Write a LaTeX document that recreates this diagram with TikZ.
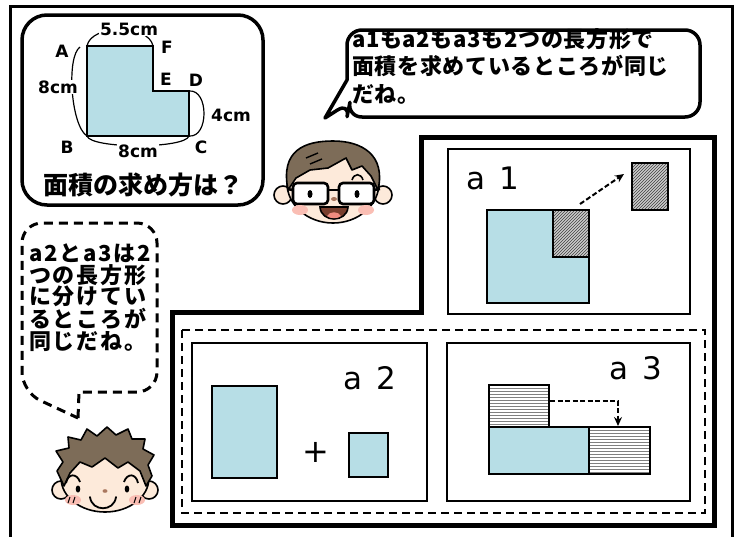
\documentclass[tikz,border=0pt]{standalone}
\usepackage{fontspec}
\usepackage{xcolor}
\newfontfamily\jp{Noto Sans CJK JP}
\newfontfamily\lat{DejaVu Sans}
\usepackage{tikz}
\usetikzlibrary{arrows.meta,patterns}
\definecolor{areablue}{RGB}{183,222,230}
\definecolor{skin}{RGB}{253,234,218}
\definecolor{hair}{RGB}{125,108,88}
\definecolor{cheek}{RGB}{250,190,180}
\definecolor{mouth}{RGB}{120,62,45}
\definecolor{tongue}{RGB}{238,140,128}
\definecolor{nose}{RGB}{170,120,95}

\begin{document}
\begin{tikzpicture}[x=1pt, y=-1pt,
  panel/.style={draw, line width=2pt},
  piece/.style={draw, line width=2.2pt, fill=areablue},
  cut/.style={draw, line width=2.2pt, preaction={fill=gray!40},
    pattern=north east lines, pattern color=black!75},
  moved/.style={draw, line width=2.2pt, preaction={fill=white},
    pattern=horizontal lines, pattern color=gray},
  bubble/.style={draw, fill=white, line width=3.5pt, line join=round},
  talkdash/.style={draw, fill=white, line width=3pt, dash pattern=on 9pt off 6pt},
  dimarc/.style={line width=1.2pt},
  lab/.style={font=\lat\bfseries\fontsize{17}{17}\selectfont, inner sep=1pt, fill=white},
  tag/.style={font=\lat\fontsize{31}{31}\selectfont, inner sep=0pt},
  talk/.style={align=left, inner sep=0pt},
  cutarrow/.style={line width=2pt, dash pattern=on 5pt off 2.5pt,
    -{Stealth[length=9pt, width=8pt]}},
  face/.style={draw, line width=1.6pt, fill=skin},
  hairline/.style={draw, line width=1.6pt, fill=hair, line join=round}
]
\useasboundingbox (0,0) rectangle (735,536);
\fill[white] (0,0) rectangle (735,536);
\draw[line width=3pt] (10,545) -- (10,6) -- (732,6) -- (732,545);

\draw[bubble, rounded corners=25pt] (22,15) rectangle (263,205);
\coordinate (A) at (87,46);
\coordinate (F) at (153,46);
\coordinate (E) at (153,91);
\coordinate (D) at (189,91);
\coordinate (C) at (189,136);
\coordinate (B) at (87,136);
\draw[dimarc] (A) .. controls +(4,-22) and +(-4,-22) .. (F);
\draw[dimarc] (80,47) .. controls +(-14,10) and +(-16,-10) .. (B);
\draw[dimarc] (B) .. controls +(4,13) and +(-4,13) .. (C);
\draw[dimarc] (D) .. controls +(20,-2) and +(20,2) .. (C);
\draw[piece, line width=2.5pt] (A) -- (F) -- (E) -- (D) -- (C) -- (B) -- cycle;
\node[lab] (len5) at (129,29) {5.5cm};
\node[lab] (lenL) at (58,87) {8cm};
\node[lab] (lenB) at (138,151) {8cm};
\node[lab] (lenR) at (231,115) {4cm};
\node[lab, fill=none] (labA) at (62,51) {A};
\node[lab, fill=none] (labF) at (167,47) {F};
\node[lab, fill=none] (labE) at (166,79) {E};
\node[lab, fill=none] (labD) at (196,80) {D};
\node[lab, fill=none] (labB) at (67,147) {B};
\node[lab, fill=none] (labC) at (201,147) {C};
\node[font=\jp\bfseries\fontsize{25}{25}\selectfont, inner sep=0pt] (Title) at (143,185) {面積の求め方は？};

\draw[bubble, rounded corners=15pt] (347,80) -- (347,30) -- (700,30) -- (700,117) -- (347,117)
  -- (350,102) [sharp corners] -- (325,118) -- cycle;
\node[talk, anchor=north west,
  font=\jp\bfseries\fontsize{22}{27.5}\selectfont\addfontfeatures{LetterSpace=3}]
  (TalkA) at (352,28) {a1もa2もa3も2つの長方形で\\面積を求めているところが同じ\\だね。};

\draw[talkdash] (78,418) -- (79,392) [rounded corners=20pt] -- (157,392) -- (157,223)
  -- (22,223) -- (22,392) [sharp corners] -- cycle;
\node[talk, anchor=north west,
  font=\jp\bfseries\fontsize{22}{21.5}\selectfont\addfontfeatures{LetterSpace=8}]
  (TalkB) at (29,244) {a2とa3は2\\つの長方形\\に分けてい\\るところが\\同じだね。};

\draw[line width=5pt] (172,312) -- (421,312) -- (421,137) -- (714,137) -- (714,525)
  -- (172,525) -- cycle;
\draw[line width=2pt, dash pattern=on 8pt off 5pt] (182,330) rectangle (705,513);

\draw[panel] (448,149) rectangle (690,314);
\node[tag] (TagA) at (493,178) {a\hspace{0.45em}1};
\draw[piece] (487,210) -- (553,210) -- (553,257) -- (589,257) -- (589,303) -- (487,303) -- cycle;
\draw[cut] (553,210) rectangle (589,257);
\draw[cut] (632,163) rectangle (668,210);
\coordinate (a1from) at (580,204);
\coordinate (a1to) at (624,174);
\draw[cutarrow] (a1from) -- (a1to);

\draw[panel] (192,343) rectangle (427,501);
\node[tag] (TagB) at (370,378) {a\hspace{0.45em}2};
\draw[piece] (212,386) rectangle (277,478);
\node[tag, font=\lat\fontsize{32}{32}\selectfont] (Plus) at (316,452) {+};
\draw[piece] (349,433) rectangle (388,477);

\draw[panel] (447,343) rectangle (690,501);
\node[tag] (TagC) at (636,368) {a\hspace{0.45em}3};
\draw[moved] (489,385) rectangle (549,427);
\draw[piece] (489,427) rectangle (589,474);
\draw[moved] (589,427) rectangle (650,474);
\coordinate (a3from) at (550,401);
\coordinate (a3to) at (618,426);
\draw[cutarrow] (a3from) -| (a3to);

\draw[face] (283,195) circle[radius=9pt];
\draw[face] (383,195) circle[radius=9pt];
\draw[face] (333,183) ellipse[x radius=46pt, y radius=40pt];
\draw[hairline] (288,190) .. controls (280,150) and (305,141) .. (333,141)
  .. controls (362,141) and (386,155) .. (378,190) -- (371,176) -- (362,166)
  -- (352,170) -- (346,158) -- (328,168) -- (310,170) -- (296,178) -- cycle;
\draw[line width=1.4pt] (306,158) -- (318,153);
\draw[line width=1.4pt] (310,164) -- (322,159);
\draw[line width=1.6pt] (352,180) .. controls (354,173) and (361,173) .. (363,180);
\draw[line width=2.6pt, fill=white, rounded corners=4pt] (293,183) rectangle (328,204);
\draw[line width=2.6pt, fill=white, rounded corners=4pt] (339,183) rectangle (374,204);
\draw[line width=2.6pt] (328,190) -- (339,190);
\draw[line width=2.6pt] (293,190) -- (287,189);
\draw[line width=2.6pt] (374,190) -- (380,189);
\fill (310,194) ellipse[x radius=2.5pt, y radius=4pt];
\fill (357,194) ellipse[x radius=2.5pt, y radius=4pt];
\fill[nose] (334,199) ellipse[x radius=3pt, y radius=2pt];
\fill[cheek] (300,210) ellipse[x radius=8pt, y radius=5pt];
\fill[cheek] (366,210) ellipse[x radius=8pt, y radius=5pt];
\draw[line width=1.6pt, fill=mouth] (320,207) -- (348,207)
  .. controls (347,223) and (321,223) .. cycle;
\fill[tongue] (327,216) .. controls (330,211) and (338,211) .. (341,216)
  .. controls (337,219) and (331,219) .. cycle;

\draw[face] (61,490) circle[radius=9pt];
\draw[face] (149,490) circle[radius=9pt];
\draw[face] (105,478) ellipse[x radius=44pt, y radius=34pt];
\draw[hairline] (64,486) -- (57,471) -- (63,462) -- (56,451) -- (69,448) -- (68,437)
  -- (81,440) -- (87,429) -- (97,436) -- (107,427) -- (116,435) -- (128,429)
  -- (132,439) -- (145,439) -- (143,449) -- (154,455) -- (148,465) -- (152,476)
  -- (146,486) -- (140,471) -- (128,462) -- (118,468) -- (105,458) -- (92,467)
  -- (80,462) -- (70,473) -- cycle;
\draw[line width=1.8pt] (66,483) .. controls (68,473) and (77,473) .. (80,482);
\draw[line width=1.8pt] (124,482) .. controls (127,473) and (136,473) .. (138,483);
\fill (78,489) ellipse[x radius=2.3pt, y radius=3.5pt];
\fill (127,489) ellipse[x radius=2.3pt, y radius=3.5pt];
\fill[nose] (105,491) ellipse[x radius=2.5pt, y radius=1.8pt];
\fill[cheek] (73,500) ellipse[x radius=8pt, y radius=5pt];
\fill[cheek] (137,500) ellipse[x radius=8pt, y radius=5pt];
\draw[line width=1pt] (70,497) -- (68,503) (75,497) -- (73,503);
\draw[line width=1pt] (136,497) -- (134,503) (141,497) -- (139,503);
\draw[line width=1.8pt, line cap=round] (90,497) .. controls (92,512) and (114,512) .. (116,497);
\end{tikzpicture}
\end{document}
